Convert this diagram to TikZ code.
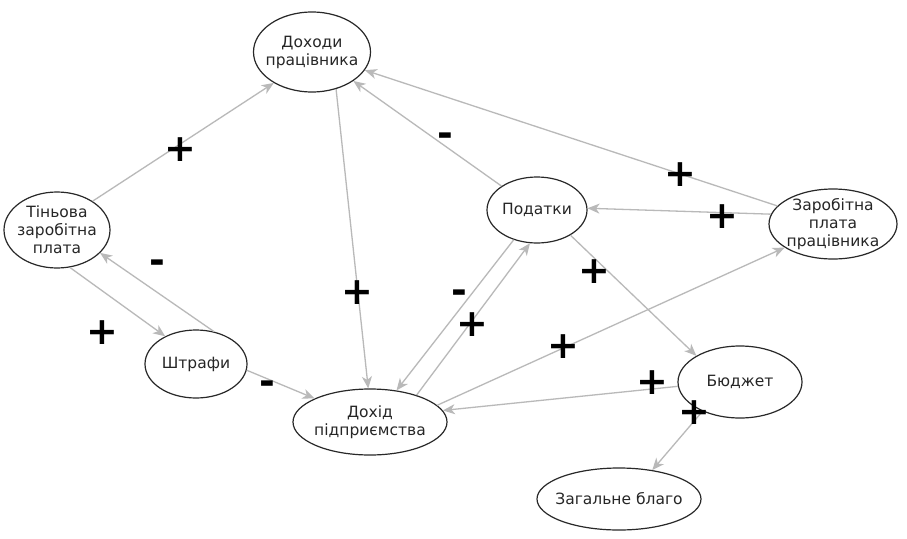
\documentclass[tikz,border=0pt]{standalone}
\usepackage{fontspec}
\setmainfont{DejaVu Sans}
\newfontfamily\signfont{DejaVu Sans}
\usetikzlibrary{shapes.geometric,arrows.meta}
\definecolor{edgegray}{RGB}{185,185,185}
\definecolor{nodeborder}{RGB}{40,40,40}
\tikzset{
  vnode/.style={ellipse, draw=nodeborder, line width=1.2pt, fill=white, inner sep=-14pt,
    align=center, font=\fontsize{15.5}{18}\selectfont, text=black!85},
  link/.style={draw=edgegray, line width=1.3pt, -{Stealth[length=12pt,width=10pt,inset=3.5pt]}},
  sign/.style={font=\signfont\bfseries\fontsize{38}{38}\selectfont, text=black, inner sep=0pt}
}
\begin{document}
\begin{tikzpicture}[x=1pt,y=-1pt]
\useasboundingbox (0,0) rectangle (907,538);
\fill[white] (0,0) rectangle (907,538);
% nodes
\node[vnode, minimum width=117pt, minimum height=80pt] (dp) at (312,52) {Доходи\\працівника};
\node[vnode, minimum width=106pt, minimum height=76pt] (tz) at (57,230) {Тіньова\\заробітна\\плата};
\node[vnode, minimum width=100pt, minimum height=66pt] (pd) at (537,210) {Податки};
\node[vnode, minimum width=128pt, minimum height=70pt] (zp) at (833,224) {Заробітна\\плата\\працівника};
\node[vnode, minimum width=102pt, minimum height=68pt] (sh) at (196,364) {Штрафи};
\node[vnode, minimum width=154pt, minimum height=66pt] (dh) at (370,422) {Дохід\\підприємства};
\node[vnode, minimum width=124pt, minimum height=72pt] (bd) at (740,382) {Бюджет};
\node[vnode, minimum width=164pt, minimum height=62pt] (zb) at (619,499) {Загальне благо};
% edges
\draw[link] (tz.39) -- (dp.219);
\draw[link] (sh.61) -- (tz.332);
\draw[link] (tz.289) -- (sh.138);
\draw[link] (sh.353) -- (dh.157);
\draw[link] (dp.303) -- (dh.93);
\draw[link] (pd.146) -- (dp.325);
\draw[link] (zp.162) -- (dp.341);
\draw[link] (zp.171) -- (pd.2);
\draw[link] (pd.232) -- (dh.50);
\draw[link] (dh.30) -- (pd.258);
\draw[link] (dh.14) -- (zp.206);
\draw[link] (pd.323) -- (bd.149);
\draw[link] (bd.184) -- (dh.9);
\draw[link] (bd.218) -- (zb.41);
% signs
\node[sign] (s1) at (180,150) {+};
\node[sign] (s2) at (157,267) {-};
\node[sign] (s3) at (102,333) {+};
\node[sign] (s4) at (267,388) {-};
\node[sign] (s5) at (357,293) {+};
\node[sign] (s6) at (445,140) {-};
\node[sign] (s7) at (680,175) {+};
\node[sign] (s8) at (722,217) {+};
\node[sign] (s9) at (459,297) {-};
\node[sign] (s10) at (472,325) {+};
\node[sign] (s11) at (563,347) {+};
\node[sign] (s12) at (594,272) {+};
\node[sign] (s13) at (652,383) {+};
\node[sign] (s14) at (694,413) {+};
\end{tikzpicture}
\end{document}
